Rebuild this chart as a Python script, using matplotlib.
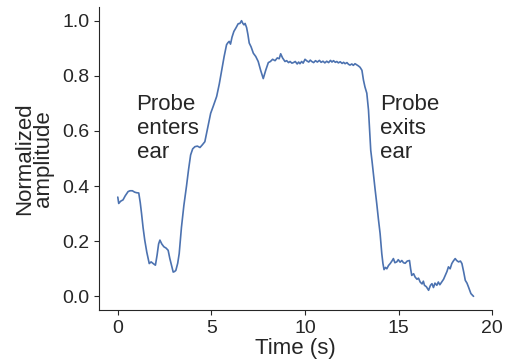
import numpy as np
import matplotlib.pyplot as plt
import seaborn as sns

# Points (temps en s, amplitude normalisée)
time = [0.0, 0.05, 0.15, 0.28, 0.4, 0.55, 0.65, 0.78, 0.9, 1.0, 1.12, 1.2, 1.27,
        1.35, 1.44, 1.55, 1.68, 1.78, 1.89, 2.01, 2.1, 2.18, 2.25, 2.35, 2.46, 2.58,
        2.69, 2.78, 2.88, 2.96, 3.03, 3.1, 3.2, 3.28, 3.4, 3.53, 3.67, 3.78, 3.89,
        4.0, 4.12, 4.25, 4.39, 4.52, 4.65, 4.8, 4.96, 5.1, 5.28, 5.42, 5.55, 5.68,
        5.81, 5.88, 5.95, 6.02, 6.1, 6.2, 6.32, 6.43, 6.52, 6.61, 6.68, 6.74, 6.8,
        6.88, 6.95, 7.02, 7.12, 7.24, 7.37, 7.5, 7.63, 7.77, 7.9, 8.04, 8.15, 8.27,
        8.4, 8.52, 8.62, 8.7, 8.8, 8.93, 9.02, 9.12, 9.2, 9.3, 9.38, 9.48, 9.58,
        9.66, 9.73, 9.82, 9.9, 10.0, 10.1, 10.2, 10.28, 10.36, 10.46, 10.56, 10.66,
        10.77, 10.86, 10.96, 11.06, 11.16, 11.26, 11.36, 11.44, 11.52, 11.62, 11.7,
        11.78, 11.88, 11.98, 12.06, 12.14, 12.24, 12.32, 12.4, 12.5, 12.58, 12.67,
        12.76, 12.85, 12.94, 13.04, 13.12, 13.2, 13.3, 13.39, 13.45, 13.51, 13.58,
        13.65, 13.74, 13.83, 13.92, 14.01, 14.1, 14.16, 14.22, 14.3, 14.37, 14.46,
        14.55, 14.64, 14.72, 14.8, 14.9, 14.98, 15.08, 15.17, 15.26, 15.35, 15.46,
        15.58, 15.64, 15.7, 15.8, 15.88, 15.98, 16.06, 16.15, 16.25, 16.32, 16.38,
        16.48, 16.6, 16.7, 16.78, 16.86, 16.94, 17.04, 17.12, 17.2, 17.3, 17.4,
        17.49, 17.58, 17.66, 17.75, 17.84, 17.92, 18.02, 18.1, 18.2, 18.3, 18.38,
        18.47, 18.56, 18.65, 18.73, 18.86, 19.0]
amplitude = [0.36, 0.337, 0.345, 0.35, 0.365, 0.38, 0.383, 0.383, 0.378, 0.376,
             0.375, 0.34, 0.30, 0.25, 0.204, 0.16, 0.119, 0.125, 0.119, 0.113,
             0.15, 0.19, 0.204, 0.19, 0.18, 0.175, 0.167, 0.137, 0.11, 0.088,
             0.09, 0.094, 0.12, 0.155, 0.25, 0.33, 0.40, 0.46, 0.513, 0.535,
             0.543, 0.545, 0.54, 0.55, 0.561, 0.61, 0.664, 0.69, 0.725, 0.77,
             0.82, 0.87, 0.913, 0.92, 0.925, 0.915, 0.94, 0.961, 0.975, 0.989,
             0.99, 1.0, 0.99, 0.985, 0.99, 0.975, 0.95, 0.919, 0.905, 0.882,
             0.87, 0.852, 0.82, 0.79, 0.82, 0.848, 0.852, 0.86, 0.855, 0.865,
             0.862, 0.88, 0.865, 0.852, 0.855, 0.848, 0.852, 0.846, 0.848, 0.852,
             0.843, 0.85, 0.844, 0.852, 0.846, 0.86, 0.854, 0.85, 0.857, 0.852,
             0.848, 0.855, 0.85, 0.856, 0.849, 0.853, 0.847, 0.853, 0.848, 0.856,
             0.85, 0.855, 0.849, 0.852, 0.847, 0.851, 0.845, 0.849, 0.844, 0.848,
             0.842, 0.839, 0.843, 0.838, 0.844, 0.84, 0.836, 0.831, 0.82, 0.785,
             0.76, 0.737, 0.676, 0.60, 0.53, 0.49, 0.446, 0.39, 0.337, 0.28,
             0.228, 0.155, 0.12, 0.097, 0.105, 0.10, 0.112, 0.119, 0.128, 0.137,
             0.122, 0.125, 0.133, 0.124, 0.13, 0.122, 0.12, 0.128, 0.13, 0.1,
             0.076, 0.082, 0.07, 0.062, 0.066, 0.052, 0.045, 0.055, 0.04, 0.035,
             0.022, 0.04, 0.046, 0.032, 0.048, 0.04, 0.052, 0.042, 0.052, 0.062,
             0.076, 0.09, 0.107, 0.1, 0.119, 0.128, 0.137, 0.13, 0.125, 0.128,
             0.119, 0.09, 0.058, 0.048, 0.034, 0.01, 0.0]

sns.set_style('ticks')
plt.rcParams['font.family'] = ['Liberation Sans', 'DejaVu Sans']

fig = plt.figure(figsize=(5.08, 3.64), dpi=100)
ax = fig.add_axes([0.195, 0.148, 0.774, 0.833])

ax.plot(time, amplitude, color='#4C72B0', linewidth=1.2)

ax.text(1.0, 0.61, 'Probe\nenters\near', fontsize=16, color='#262626',
        va='center', ha='left', linespacing=1.2)
ax.text(14.0, 0.61, 'Probe\nexits\near', fontsize=16, color='#262626',
        va='center', ha='left', linespacing=1.2)

ax.set_xlim(-1, 20)
ax.set_ylim(-0.05, 1.05)
ax.set_xticks([0, 5, 10, 15, 20])
ax.set_yticks([0.0, 0.2, 0.4, 0.6, 0.8, 1.0])
ax.set_yticklabels(['0.0', '0.2', '0.4', '0.6', '0.8', '1.0'])
ax.tick_params(labelsize=14, colors='#262626')
ax.set_xlabel('Time (s)', fontsize=16, color='#262626', labelpad=1)
ax.set_ylabel('Normalized\namplitude', fontsize=16, color='#262626',
              linespacing=0.85, labelpad=6)
sns.despine(ax=ax)

fig.savefig('out.png', dpi=100)
